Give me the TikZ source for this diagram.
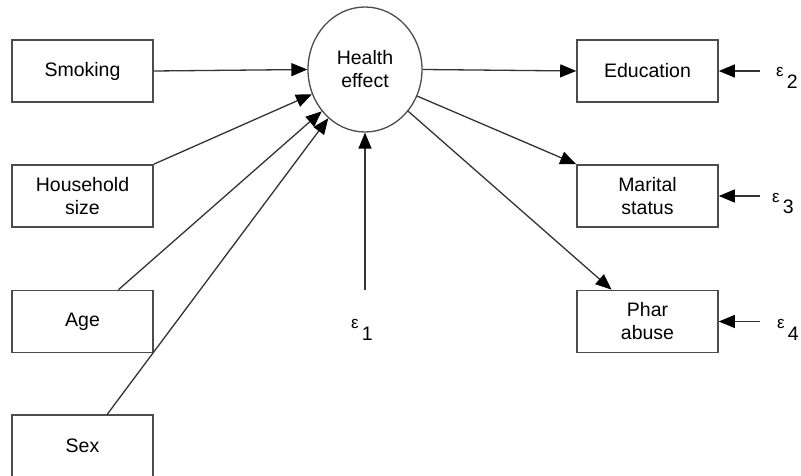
\documentclass[tikz,border=0pt]{standalone}
\usepackage{fontspec}
\setmainfont{Liberation Sans}
\usetikzlibrary{shapes.geometric,arrows.meta,calc}

\tikzset{
  varbox/.style={draw=black!70, line width=1.6pt, minimum width=141pt, minimum height=62pt,
    inner sep=0pt, align=center, font=\fontsize{19.5}{23}\selectfont},
  latent/.style={ellipse, draw=black!70, line width=1.3pt, minimum width=114pt, minimum height=125pt,
    inner sep=0pt, align=center, font=\fontsize{19.5}{23}\selectfont},
  path/.style={draw=black!80, line width=1.3pt, -{Triangle[length=16pt,width=13pt,color=black]}},
  errlabel/.style={inner sep=0pt, anchor=base west, font=\fontsize{19.5}{23}\selectfont},
}
\newcommand{\errterm}[1]{\raisebox{12pt}{\fontsize{17}{17}\selectfont ε}\kern3pt #1}

\begin{document}
\begin{tikzpicture}[x=1pt, y=-1pt]
  \useasboundingbox (0,0) rectangle (801,476);

  % observed predictors
  \node[varbox] (smoke) at (82.5,71) {Smoking};
  \node[varbox] (house) at (82.5,196) {Household\\size};
  \node[varbox] (age)   at (82.5,321.5) {Age};
  \node[varbox] (sex)   at (82.5,446) {Sex};

  % latent variable
  \node[latent] (he) at (365,69.5) {Health\\effect};

  % observed outcomes
  \node[varbox] (edu)  at (647.5,71) {Education};
  \node[varbox] (mar)  at (647.5,196) {Marital\\status};
  \node[varbox] (phar) at (647.5,321.5) {Phar\\abuse};

  % error terms
  \coordinate (e1pt) at (365,290);
  \coordinate (e2pt) at (760,71);
  \coordinate (e3pt) at (760,196);
  \coordinate (e4pt) at (760,321.5);
  \node[errlabel] (e1) at (351,340) {\errterm{1}};
  \node[errlabel] (e2) at (776,89)  {\errterm{2}};
  \node[errlabel] (e3) at (772,214) {\errterm{3}};
  \node[errlabel] (e4) at (777,340) {\errterm{4}};

  % start points on the box tops
  \coordinate (ageout) at ($(age.north west)!0.752!(age.north east)$);
  \coordinate (sexout) at ($(sex.north west)!0.674!(sex.north east)$);

  % structural paths
  \draw[path] (smoke.east) -- (he.west);
  \draw[path] (house.north east) -- (he.205.7);
  \draw[path] (ageout) -- (he.224.7);
  \draw[path] (sexout) -- (he.233.8);
  \draw[path] (e1pt) -- (he.south);

  \draw[path] (he.east) -- (edu.west);
  \draw[path] (he.-27.4) -- (mar.north west);
  \draw[path] (he.-44) -- ($(phar.north west)!0.248!(phar.north east)$);

  \draw[path] (e2pt) -- (edu.east);
  \draw[path] (e3pt) -- (mar.east);
  \draw[path] (e4pt) -- (phar.east);
\end{tikzpicture}
\end{document}
